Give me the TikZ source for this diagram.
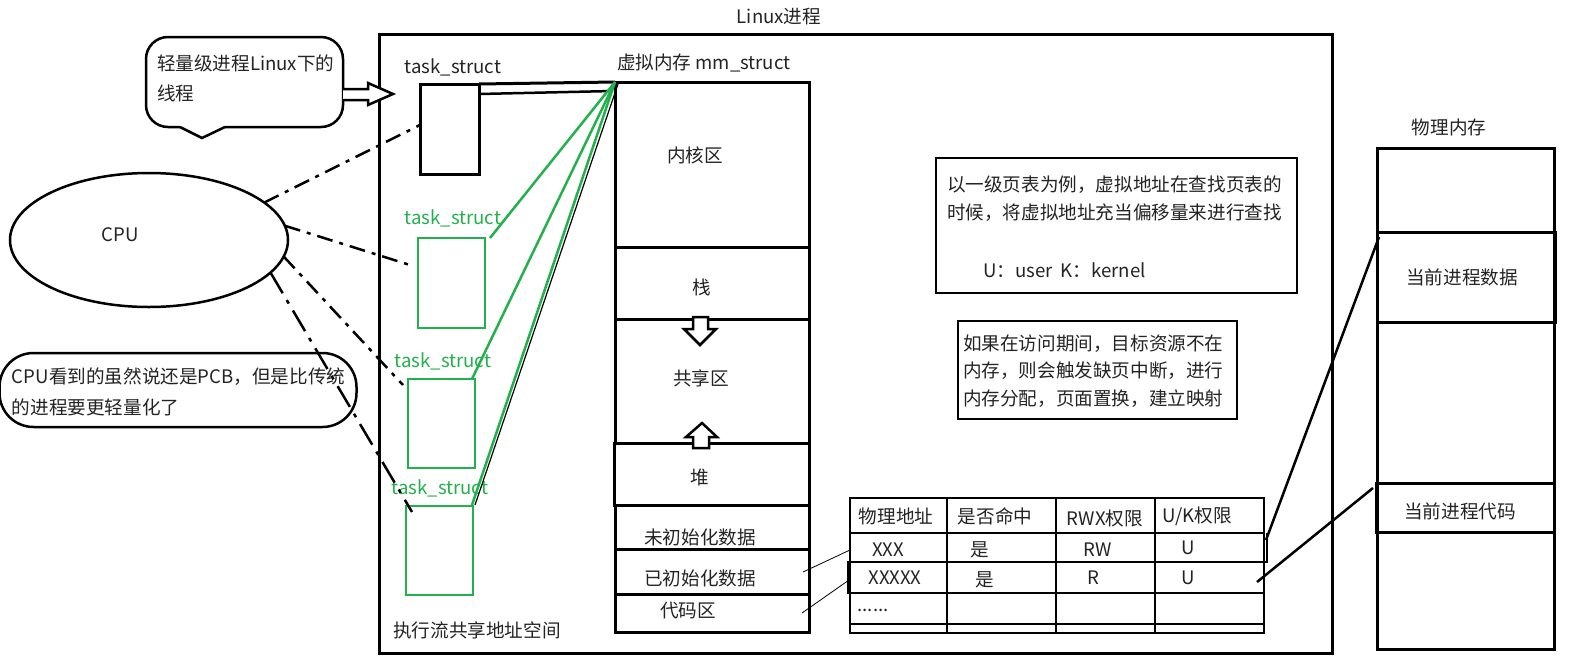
\documentclass[tikz,border=0pt]{standalone}
\usepackage{fontspec}
\setmainfont{Noto Sans CJK SC}
\usetikzlibrary{calc,shapes.geometric}
\definecolor{pgreen}{RGB}{34,177,76}
\definecolor{ink}{RGB}{35,35,35}
\newcommand{\fs}{\fontsize{18.6}{22}\selectfont}
\newcommand{\bx}[6]{\node[#6, minimum width={#4-#2}, minimum height={#5-#3}, anchor=north west] (#1) at (#2,#3) {};}
\begin{document}
\begin{tikzpicture}[x=1pt,y=-1pt,
  every node/.style={inner sep=0pt,outer sep=0pt},
  txt/.style={font=\fs,text=ink},
  gtxt/.style={font=\fs,text=pgreen},
  heavy/.style={draw=black,line width=3pt},
  med/.style={draw=black,line width=2.5pt},
  thinb/.style={draw=black,line width=1.2pt},
  gbox/.style={draw=pgreen,line width=2.5pt},
  gline/.style={draw=pgreen,line width=2.5pt},
  dashdot/.style={draw=black,line width=2.5pt,dash pattern=on 16pt off 7pt on 4pt off 7pt},
  hollow/.style={draw=black,line width=2.5pt,fill=white,line join=miter},
  tline/.style={draw=black,line width=1.5pt},
  fine/.style={draw=black,line width=0.8pt},
]
\useasboundingbox (0,0) rectangle (1569,656);

% outer process frame
\bx{proc}{379}{34}{1332}{653}{heavy}
\node[txt] (title) at (779,17) {Linux进程};

% bubble callout
\draw[med, rounded corners=22pt] (180,127) -- (146,127) -- (146,37) -- (343,37) -- (343,127) -- (225,127);
\draw[med] (180,127) -- (202,138) -- (225,127);
\node[txt, anchor=west, align=left, font=\fontsize{18.6}{30}\selectfont] (bubtxt) at (157,78) {轻量级进程Linux下的\\线程};
\draw[hollow] (343,89) -- (368,89) -- (368,83) -- (393,94) -- (368,105) -- (368,100) -- (343,100);

% main task_struct
\node[txt] (t0lbl) at (453,67) {task\_struct};
\bx{task0}{420}{84}{479}{174}{heavy}

% virtual memory column
\node[txt, anchor=west] (mmlbl) at (617,63) {虚拟内存 mm\_struct};
\bx{kern}{615}{82}{809}{247}{heavy}
\bx{stack}{615}{247}{809}{319}{heavy}
\bx{shared}{615}{319}{809}{443}{heavy}
\bx{heap}{614}{443}{809}{505}{heavy}
\bx{uninit}{615}{505}{809}{549}{heavy}
\bx{init}{615}{549}{809}{594}{heavy}
\bx{code}{615}{594}{809}{632}{heavy}
\node[txt] at (695,155) {内核区};
\node[txt] at (702,287) {栈};
\node[txt] at (701,378) {共享区};
\node[txt] at (700,477) {堆};
\node[txt] at (700,537) {未初始化数据};
\node[txt] at (700,578) {已初始化数据};
\node[txt] at (688,611) {代码区};
\draw[hollow] (693,317) -- (708,317) -- (708,329) -- (716,329) -- (700,345) -- (684,329) -- (693,329) -- cycle;
\draw[hollow] (693,448) -- (709,448) -- (709,437) -- (717,437) -- (702,423) -- (686,437) -- (693,437) -- cycle;

% task0 to mm
\draw[heavy] (task0.north east) -- (kern.north west);
\draw[med] ($(task0.north east)+(0,10)$) -- ($(kern.north west)+(-2,9)$);

% green task_structs
\node[gtxt] (g1lbl) at (453,218) {task\_struct};
\bx{g1}{418}{238}{485}{328}{gbox}
\node[gtxt] (g2lbl) at (443,361) {task\_struct};
\bx{g2}{408}{379}{475}{468}{gbox}
\node[gtxt] (g3lbl) at (440,488) {task\_struct};
\bx{g3}{406}{506}{473}{595}{gbox}
\draw[thinb] ($(g3.north east)+(2,-1)$) -- ($(kern.north west)+(3,2)$);
\draw[gline] ($(g1.north east)+(5,0)$) -- (kern.north west);
\draw[gline] ($(g2.north east)+(-3,0)$) -- (kern.north west);
\draw[gline] ($(g3.north east)+(-1,-1)$) -- (kern.north west);
\node[txt] (shared) at (477,630) {执行流共享地址空间};

% CPU
\node[ellipse, med, minimum width=278, minimum height=134] (cpu) at (149,240) {};
\node[txt] (cputxt) at (120,235) {CPU};
\coordinate (e1) at (420,125);
\coordinate (e2) at (410,265);
\coordinate (e3) at (403,385);
\coordinate (e4) at (412,512);
\draw[dashdot] (cpu.18) -- (e1);
\draw[dashdot] (cpu.6) -- (e2);
\draw[dashdot] (cpu.-7) -- (e3);
\draw[dashdot, dash pattern=on 24pt off 8pt on 4pt off 8pt] (cpu.-15) -- (e4);

% CPU note
\node[med, rounded corners=34pt, minimum width=357, minimum height=74] (note) at (178,390) {};
\node[txt, anchor=west, align=left, font=\fontsize{18.6}{31}\selectfont] (notetxt) at (12,392) {CPU看到的虽然说还是PCB，但是比传统\\的进程要更轻量化了};

% info boxes
\bx{infoA}{936}{158}{1297}{293}{thinb}
\node[txt, anchor=west, align=left, font=\fontsize{18.6}{28}\selectfont] (infoAt) at (947,199) {以一级页表为例，虚拟地址在查找页表的\\时候，将虚拟地址充当偏移量来进行查找};
\node[txt, anchor=west] (infoAu) at (983,270) {U：user\ \ K：kernel};
\bx{infoB}{958}{321}{1237}{419}{thinb}
\node[txt, anchor=west, align=left, font=\fontsize{18.6}{27.5}\selectfont] (infoBt) at (963,371) {如果在访问期间，目标资源不在\\内存，则会触发缺页中断，进行\\内存分配，页面置换，建立映射};

% page table
\bx{tab}{850}{498}{1264}{633}{tline}
\draw[tline] (850,533) -- (1264,533);
\draw[tline] (850,562) -- (1267,562) -- (1267,533);
\draw[tline] (848,562) rectangle (1264,593);
\draw[tline] (850,624) -- (1264,624);
\draw[line width=2.5pt] (850,633) -- (1264,633);
\draw[tline] (947,498) -- (947,633);
\draw[tline] (1056,498) -- (1056,633);
\draw[tline] (1155,498) -- (1155,633);
\node[txt] at (896,516) {物理地址};
\node[txt] at (995,516) {是否命中};
\node[txt] at (1105,518) {RWX权限};
\node[txt] at (1197,516) {U/K权限};
\node[txt] (r1) at (888,550) {XXX};
\node[txt] at (980,550) {是};
\node[txt] at (1098,550) {RW};
\node[txt] at (1188,548) {U};
\node[txt] (r2) at (895,578) {XXXXX};
\node[txt] at (985,580) {是};
\node[txt] at (1093,578) {R};
\node[txt] at (1188,578) {U};
\node[txt] at (873,610) {......};

% virtual -> table
\coordinate (vi) at (803,572);
\coordinate (vc) at (802,613);
\coordinate (ti) at (850,550);
\coordinate (tc) at (849,580);
\draw[fine] (vi) -- (ti);
\draw[fine] (vc) -- (tc);

% physical memory
\node[txt] (physlbl) at (1449,127) {物理内存};
\bx{phys}{1377}{148}{1554}{649}{heavy}
\bx{pdata}{1377}{232}{1555}{322}{heavy}
\bx{pcode}{1376}{483}{1554}{532}{heavy}
\node[txt] at (1462,277) {当前进程数据};
\node[txt] at (1460,511) {当前进程代码};
\coordinate (u1) at (1266,540);
\coordinate (u2) at (1257,582);
\draw[med] (u1) -- ($(pdata.north west)+(2,5)$);
\draw[med] (u2) -- ($(pcode.north west)+(-3,5)$);
\end{tikzpicture}
\end{document}
